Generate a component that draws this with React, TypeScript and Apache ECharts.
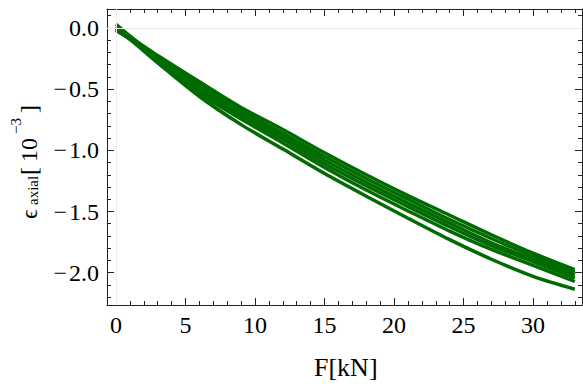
import React, { useEffect, useRef } from "react";
import * as echarts from "echarts";

// Force [kN] sample points and measured load cycles (axial strain, 10^-3)
const forceKN = [0, 1.5, 3, 6, 9, 12, 15, 18, 21, 24, 27, 30, 33];
const cycle1 = [0.03, -0.11, -0.225, -0.44, -0.65, -0.83, -1.02, -1.2, -1.37, -1.53, -1.69, -1.84, -1.974];
const cycle2 = [-0.02, -0.12, -0.24, -0.465, -0.675, -0.86, -1.05, -1.23, -1.4, -1.565, -1.72, -1.865, -1.995];
const cycle3 = [0.01, -0.125, -0.25, -0.49, -0.7, -0.885, -1.08, -1.26, -1.43, -1.595, -1.755, -1.89, -2.02];
const cycle4 = [-0.02, -0.13, -0.26, -0.51, -0.72, -0.91, -1.11, -1.29, -1.46, -1.625, -1.78, -1.91, -2.045];
const cycle5 = [-0.01, -0.135, -0.27, -0.535, -0.745, -0.94, -1.14, -1.325, -1.495, -1.66, -1.81, -1.94, -2.072];
const cycle6 = [0.0, -0.14, -0.285, -0.56, -0.79, -0.99, -1.19, -1.375, -1.555, -1.73, -1.89, -2.03, -2.135];
const cycles = [cycle1, cycle2, cycle3, cycle4, cycle5, cycle6];

// Ticks
const xMajor = [0, 5, 10, 15, 20, 25, 30];
const xMinor = [0, 1, 2, 3, 4, 5, 6, 7, 8, 9, 10, 11, 12, 13, 14, 15, 16, 17, 18, 19, 20, 21, 22, 23, 24, 25, 26, 27, 28, 29, 30, 31, 32, 33];
const yMajor = [-2, -1.5, -1, -0.5, 0];
const yMinor = [-2.2, -2.1, -2.0, -1.9, -1.8, -1.7, -1.6, -1.5, -1.4, -1.3, -1.2, -1.1, -1.0, -0.9, -0.8, -0.7, -0.6, -0.5, -0.4, -0.3, -0.2, -0.1, 0, 0.1];

const X_MIN = -0.65;
const X_MAX = 33.52;
const Y_MIN = -2.264;
const Y_MAX = 0.155;

const SERIF = "'Liberation Serif', 'Times New Roman', serif";
const GREEN = "#006b00";
const FRAME = "#222";

function fmtY(v: number): string {
  if (Math.abs(v) < 1e-9) return "0.0";
  return (v < 0 ? "\u2212\u200a" : "") + Math.abs(v).toFixed(1);
}

function makeX(position: "bottom" | "top", major: boolean) {
  return {
    type: "value",
    gridIndex: 0,
    position,
    min: X_MIN,
    max: X_MAX,
    axisLine: { show: major, onZero: false, lineStyle: { color: FRAME, width: 1 } },
    axisTick: {
      show: true,
      inside: true,
      length: major ? 7 : 4,
      customValues: major ? xMajor : xMinor,
      lineStyle: { color: FRAME, width: 1 },
    },
    axisLabel: {
      show: major && position === "bottom",
      customValues: xMajor,
      fontFamily: SERIF,
      fontSize: 24,
      color: "#000",
      margin: 8,
      formatter: (v: number) => String(v),
    },
    splitLine: { show: false },
  };
}

function makeY(position: "left" | "right", major: boolean) {
  return {
    type: "value",
    gridIndex: 0,
    position,
    min: Y_MIN,
    max: Y_MAX,
    axisLine: { show: major, onZero: false, lineStyle: { color: FRAME, width: 1 } },
    axisTick: {
      show: true,
      inside: true,
      length: major ? 7 : 4,
      customValues: major ? yMajor : yMinor,
      lineStyle: { color: FRAME, width: 1 },
    },
    axisLabel: {
      show: major && position === "left",
      customValues: yMajor,
      fontFamily: SERIF,
      fontSize: 24,
      color: "#000",
      margin: 8,
      formatter: fmtY,
    },
    splitLine: { show: false },
  };
}

export default function App() {
  const ref = useRef<HTMLDivElement>(null);
  useEffect(() => {
    if (!ref.current) return;
    const chart = echarts.init(ref.current, null, { renderer: "svg" });
    const lineSeries = cycles.map((c, i) => ({
      type: "line",
      name: "cycle " + (i + 1),
      xAxisIndex: 0,
      yAxisIndex: 0,
      data: forceKN.map((f, j) => [f, c[j]]),
      showSymbol: false,
      symbol: "none",
      smooth: 0.3,
      z: 3,
      lineStyle: { color: GREEN, width: i === 5 ? 3.5 : 3.4 },
    }));
    const textStyle = (text: string, size: number) => ({
      text,
      fontSize: size,
      fontFamily: SERIF,
      fill: "#000",
      align: "left",
      verticalAlign: "middle",
    });
    chart.setOption({
      animation: false,
      backgroundColor: "#fff",
      grid: { left: 107, right: 1, top: 9, bottom: 79, containLabel: false },
      xAxis: [makeX("bottom", true), makeX("bottom", false), makeX("top", true), makeX("top", false)],
      yAxis: [makeY("left", true), makeY("left", false), makeY("right", true), makeY("right", false)],
      series: [
        {
          type: "line",
          name: "zero",
          xAxisIndex: 0,
          yAxisIndex: 0,
          data: [],
          z: 1,
          markLine: {
            silent: true,
            symbol: "none",
            label: { show: false },
            lineStyle: { color: "#ececec", type: "solid", width: 1 },
            data: [{ xAxis: 0 }, { yAxis: 0 }],
          },
        },
        ...lineSeries,
      ],
      graphic: [
        {
          type: "text",
          left: 314,
          top: 354,
          style: { text: "F[kN]", fontSize: 26, fontFamily: SERIF, fill: "#000" },
        },
        {
          type: "group",
          x: 33,
          y: 219,
          rotation: Math.PI / 2,
          children: [
            { type: "text", x: 0, y: -4, style: textStyle("\u03f5", 24) },
            { type: "text", x: 14, y: 0, style: textStyle("axial", 15) },
            { type: "text", x: 44, y: -4, style: textStyle("[", 24) },
            { type: "text", x: 57, y: -4, style: textStyle("10", 24) },
            { type: "text", x: 85, y: -17, style: textStyle("\u22123", 15) },
            { type: "text", x: 106, y: -4, style: textStyle("]", 24) },
          ],
        },
      ],
    });
    return () => chart.dispose();
  }, []);
  return (
    <div
      ref={ref}
      style={{ position: "absolute", left: 0, top: 0, width: 583, height: 384, background: "#fff" }}
    />
  );
}
